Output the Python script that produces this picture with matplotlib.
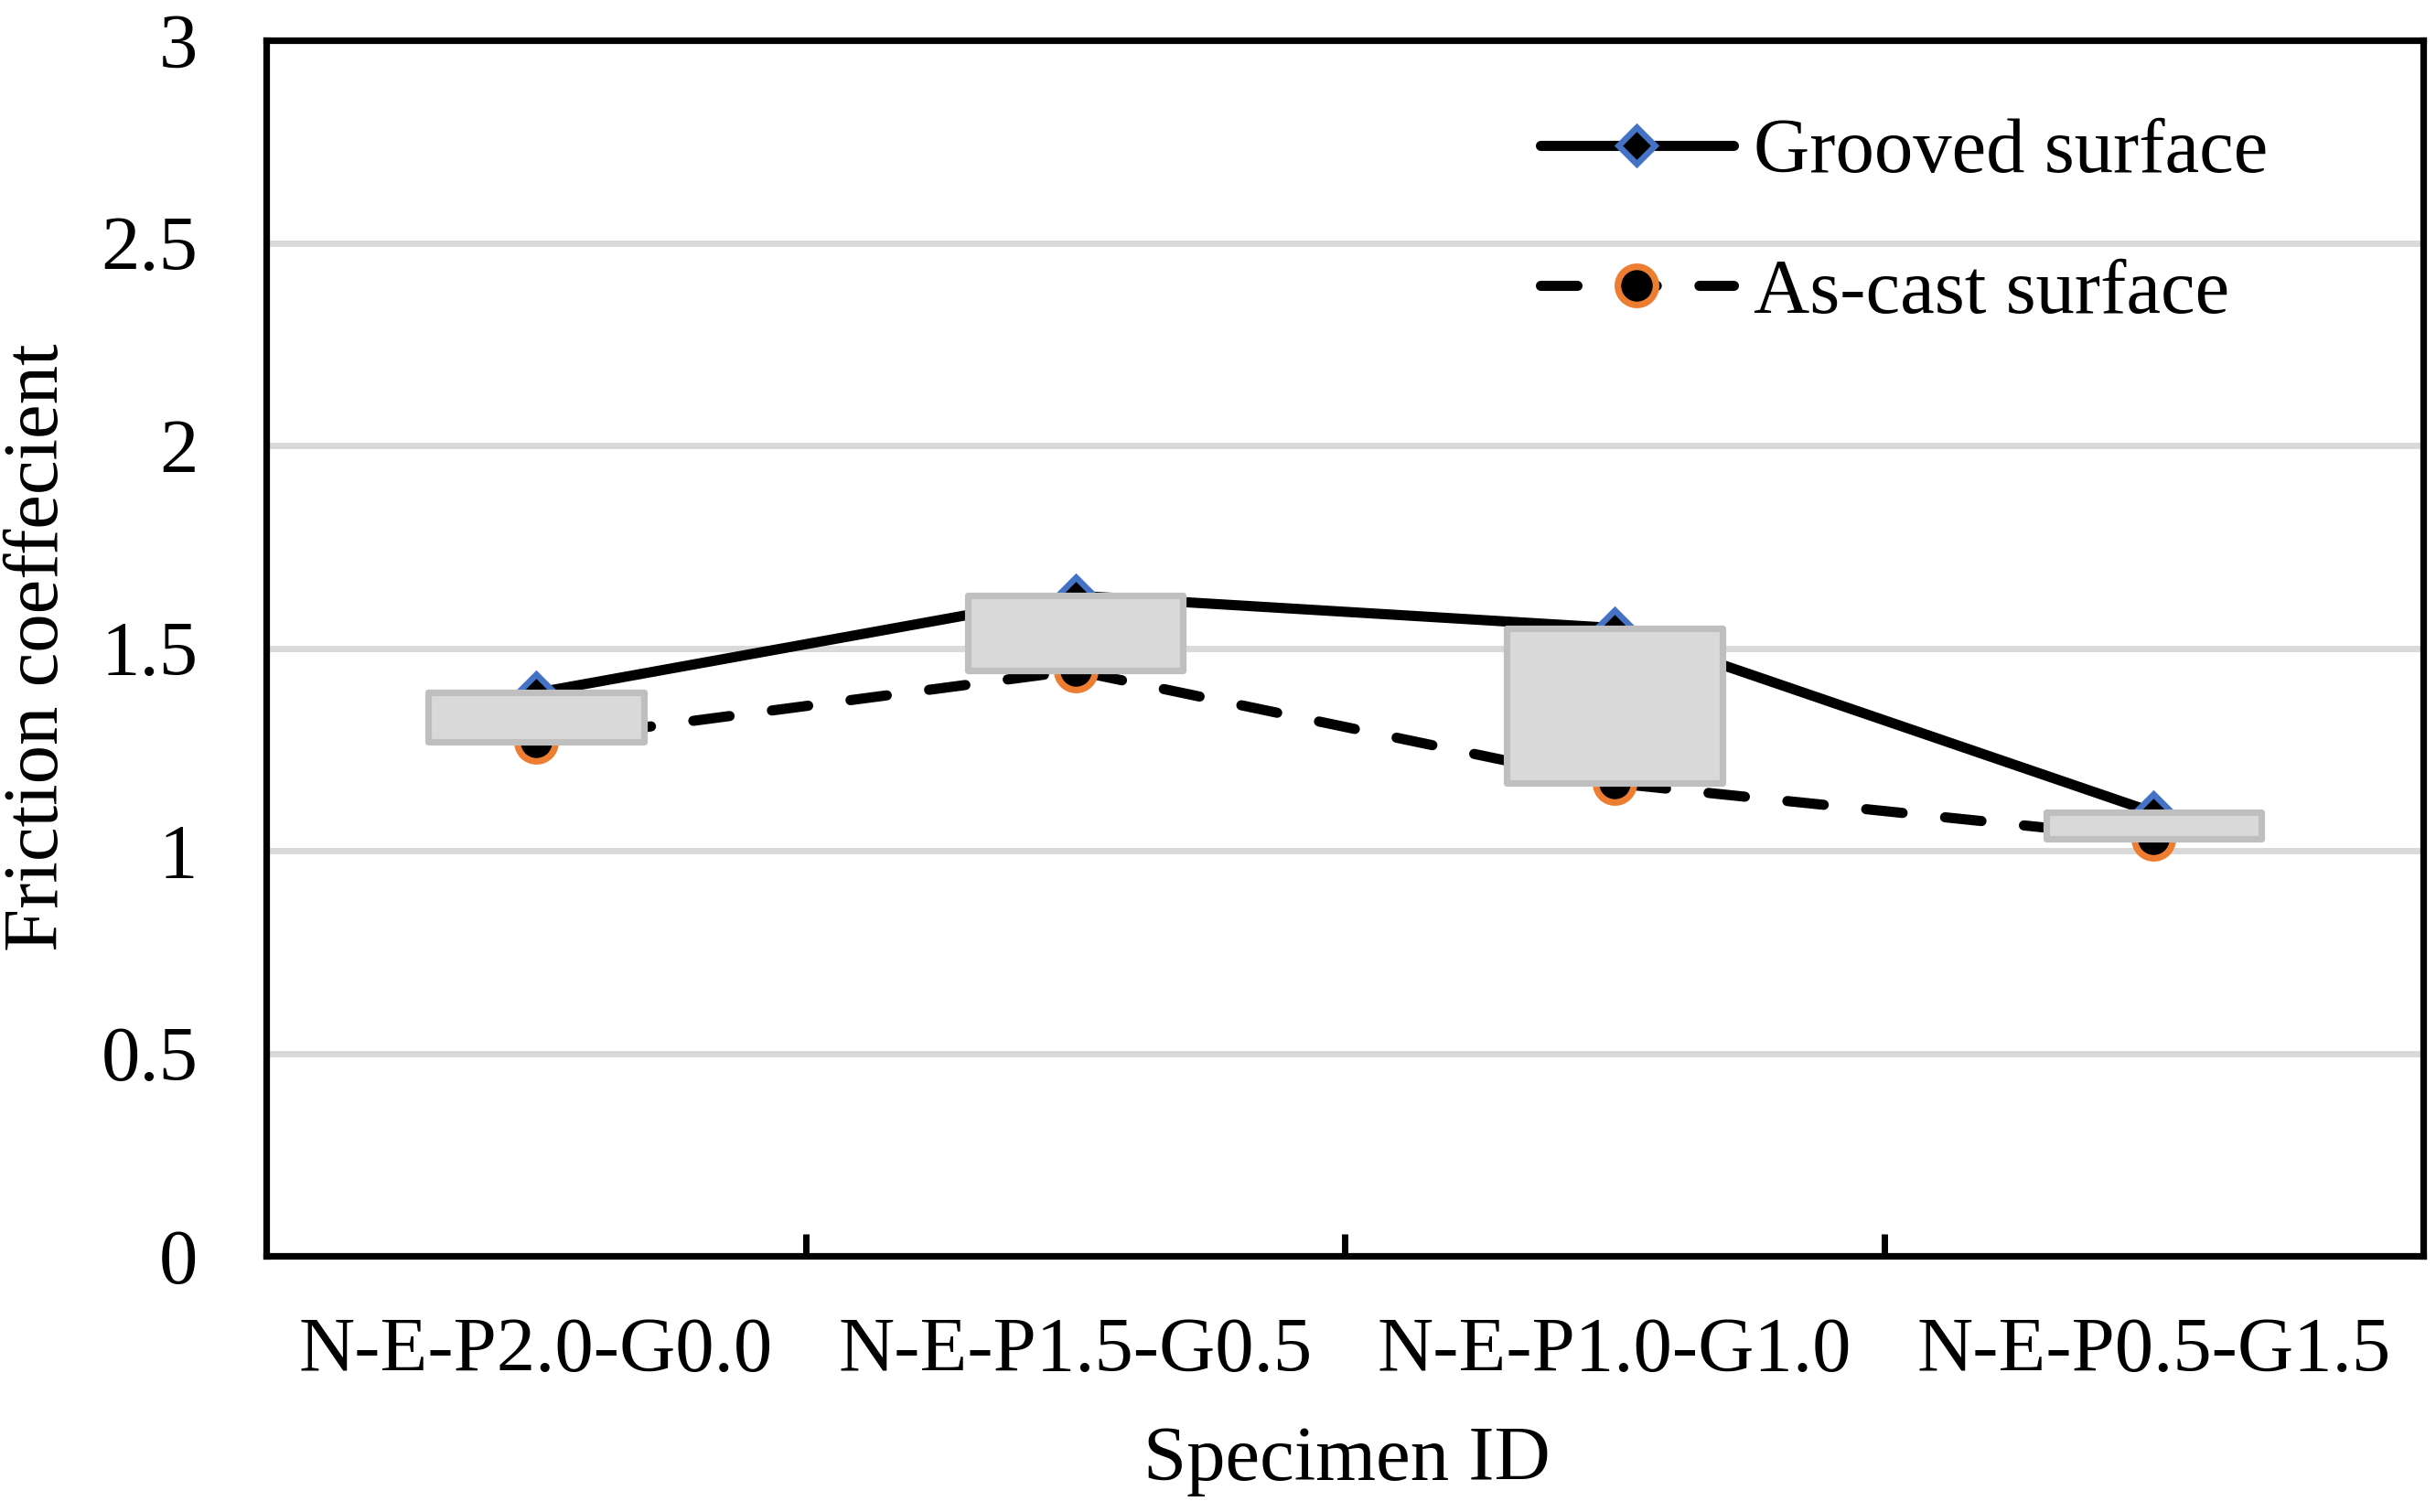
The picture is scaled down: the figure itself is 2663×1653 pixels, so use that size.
import numpy as np
import matplotlib
matplotlib.use("Agg")
import matplotlib.pyplot as plt

# data
specimens = ["N-E-P2.0-G0.0", "N-E-P1.5-G0.5", "N-E-P1.0-G1.0", "N-E-P0.5-G1.5"]
grooved = [1.39, 1.63, 1.55, 1.095]
as_cast = [1.27, 1.445, 1.167, 1.03]
yticks = [0, 0.5, 1, 1.5, 2, 2.5, 3]

plt.rcParams["font.family"] = ["Liberation Serif", "DejaVu Serif"]
fs = 61

fig = plt.figure(figsize=(26.63, 16.53), dpi=100)
ax = fig.add_axes([0.1094, 0.1691, 0.9948 - 0.1094, 0.9734 - 0.1691])

x = np.arange(len(specimens))

# lines with markers
ax.plot(x, grooved, color="black", lw=8, solid_capstyle="round",
        marker="D", ms=20.5, mfc="black", mec="#4472C4", mew=4.8,
        label="Grooved surface", zorder=3)
ax.plot(x, as_cast, color="black", lw=8, dashes=(3.6, 4.2),
        dash_capstyle="round", marker="o", ms=30, mfc="black",
        mec="#ED7D31", mew=5.2, label="As-cast surface", zorder=3)

# up-down bars between the two series
lo = np.minimum(grooved, as_cast)
hi = np.maximum(grooved, as_cast)
ax.bar(x, hi - lo, bottom=lo, width=0.4, color="#D9D9D9",
       edgecolor="#BFBFBF", linewidth=5.2, joinstyle="round", zorder=4)

ax.set_xlim(-0.5, len(specimens) - 0.5)
ax.set_ylim(0, 3)
ax.set_yticks(yticks)
ax.set_yticklabels([f"{t:g}" for t in yticks])
ax.set_xticks(x)
ax.set_xticklabels(specimens)
ax.set_xticks(x[:-1] + 0.5, minor=True)

ax.yaxis.grid(True, color="#D9D9D9", lw=5)
ax.set_axisbelow(True)

for s in ax.spines.values():
    s.set_linewidth(5.2)
    s.set_color("black")

ax.tick_params(axis="x", which="major", length=0, pad=48, labelsize=fs)
ax.tick_params(axis="x", which="minor", direction="in", length=17.6,
               width=5, color="black")
ax.tick_params(axis="y", length=0, pad=54, labelsize=fs)

fig.text(1472 / 2663, 1 - 1597 / 1653, "Specimen ID", fontsize=fs,
         ha="center", va="center")
fig.text(43 / 2663, 1 - 708 / 1653, "Friction coeffecient", fontsize=fs,
         ha="center", va="center", rotation=90)

ax.legend(loc="upper left", bbox_to_anchor=(1684 / 2663, 1 - 129 / 1653),
          bbox_transform=fig.transFigure, frameon=False, fontsize=fs,
          borderpad=0, borderaxespad=0, handlelength=2.49,
          handletextpad=0.26, labelspacing=0.9, numpoints=1)

fig.savefig("out.png", dpi=100)
